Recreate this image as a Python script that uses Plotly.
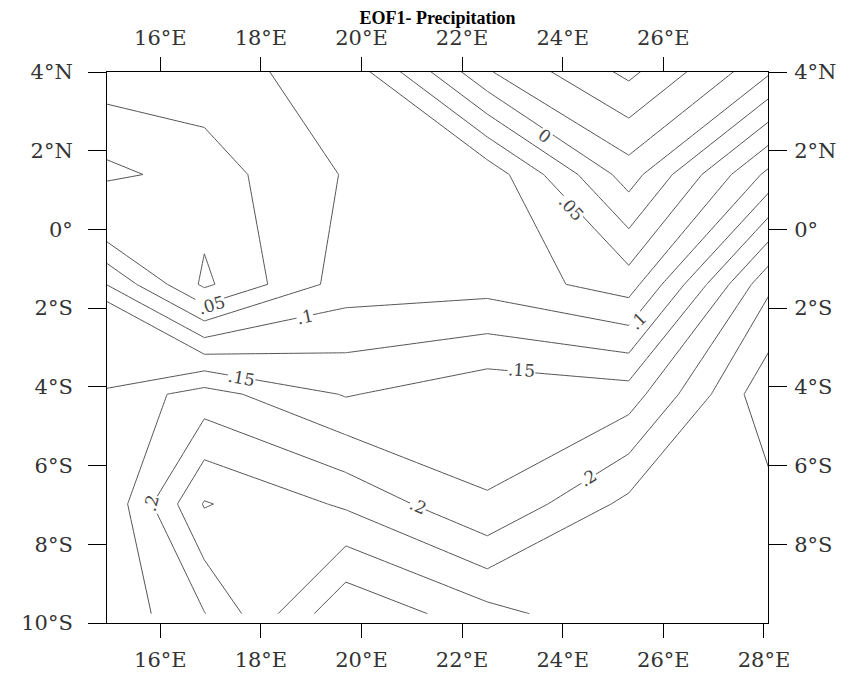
import plotly.graph_objects as go

# Grid of the EOF1 field (T42-like grid)
lons = [14.0625, 16.875, 19.6875, 22.5, 25.3125, 28.125]
lats = [4.1861, 1.3953, -1.3953, -4.1861, -6.9767, -9.7669]
eof1 = [
    [0.065, 0.066, 0.087, -0.029, -0.086, -0.010],
    [0.008, 0.038, 0.077, 0.091, -0.012, 0.108],
    [0.135, 0.020, 0.087, 0.090, 0.063, 0.221],
    [0.147, 0.185, 0.148, 0.168, 0.162, 0.270],
    [0.110, 0.252, 0.221, 0.176, 0.232, 0.242],
    [0.135, 0.199, 0.297, 0.259, 0.229, 0.238],
]

# contour labels as drawn on the chart
label_text = ["0", ".05", ".05", ".1", ".1", ".15", ".15", ".2", ".2", ".2"]
label_lon = [23.64, 24.17, 17.02, 18.87, 25.49, 17.61, 23.18, 15.82, 21.12, 24.50]
label_lat = [2.37, 0.55, -1.91, -2.23, -2.33, -3.77, -3.56, -6.95, -7.03, -6.31]
label_ang = [35, 47, -17, -12, -45, 10, 3, -75, 24, -32]

xt_bottom = [16, 18, 20, 22, 24, 26, 28]
xt_top = [16, 18, 20, 22, 24, 26]
yt_left = [4, 2, 0, -2, -4, -6, -8, -10]
yt_right = [4, 2, 0, -2, -4, -6, -8]


def lon_txt(v):
    return f"{v}°E"


def lat_txt(v):
    if v > 0:
        return f"{v}°N"
    if v < 0:
        return f"{-v}°S"
    return "0°"


x_range = [14.94, 28.08]
y_range = [-10, 4]
tick_font = dict(family="DejaVu Serif", size=21, color="#333")

fig = go.Figure()
fig.add_trace(go.Contour(
    x=lons, y=lats, z=eof1,
    contours=dict(start=-0.1, end=0.3, size=0.025, coloring="none", showlabels=False),
    line=dict(color="#555", width=1, smoothing=0),
    showscale=False, hoverinfo="skip",
))
fig.add_trace(go.Scatter(x=[], y=[], xaxis="x2", yaxis="y2", showlegend=False))

for t, lo, la, ang in zip(label_text, label_lon, label_lat, label_ang):
    fig.add_annotation(x=lo, y=la, xref="x", yref="y", text=t, showarrow=False,
                       textangle=ang, bgcolor="white", borderpad=0,
                       font=dict(family="DejaVu Serif", size=17, color="#444"))

axis_common = dict(showgrid=False, zeroline=False, showline=True, linecolor="black",
                   linewidth=1, ticks="outside", tickcolor="black", tickwidth=1,
                   tickfont=tick_font, automargin=False)

fig.update_layout(
    width=844, height=665,
    margin=dict(l=99, r=84, t=64, b=50),
    plot_bgcolor="white", paper_bgcolor="white", showlegend=False,
    title=dict(text="EOF1- Precipitation", x=0.5, xref="paper", y=1 - 3 / 665, yref="container",
               yanchor="top", pad=dict(t=0, b=0),
               font=dict(family="Liberation Serif", size=18, color="black", weight=700)),
    xaxis=dict(range=x_range, tickvals=xt_bottom, ticktext=[lon_txt(v) for v in xt_bottom],
               ticklen=14, ticklabelstandoff=4, **axis_common),
    xaxis2=dict(range=x_range, overlaying="x", side="top", tickvals=xt_top,
                ticktext=[lon_txt(v) for v in xt_top], ticklen=14, ticklabelstandoff=4,
                **axis_common),
    yaxis=dict(range=y_range, tickvals=yt_left, ticktext=[lat_txt(v) for v in yt_left],
               ticklen=18, ticklabelstandoff=11, **axis_common),
    yaxis2=dict(range=y_range, overlaying="y", side="right", tickvals=yt_right,
                ticktext=[lat_txt(v) for v in yt_right], ticklen=18, ticklabelstandoff=3,
                **axis_common),
)

fig.write_html("out.html")
